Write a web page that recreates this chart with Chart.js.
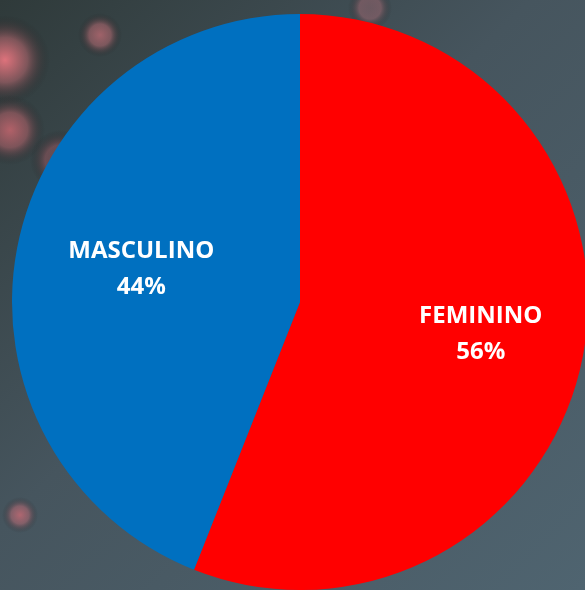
<!DOCTYPE html>
<html>
<head>
<meta charset="utf-8">
<script src="https://cdn.jsdelivr.net/npm/chart.js@4.4.0/dist/chart.umd.min.js"></script>
<style>
  html, body { margin: 0; padding: 0; background: #4b5a66; overflow: hidden; }
  #chart { display: block; }
</style>
</head>
<body>
<canvas id="chart" width="585" height="590"></canvas>
<script>
// data
const categories = ['FEMININO', 'MASCULINO'];
const percents = [56, 44];
const sliceColors = ['#ff0000', '#0070c0'];

// background: blurred dark photo, pinkish top-left
const photoBackground = {
  id: 'photoBackground',
  beforeDraw(chart) {
    const ctx = chart.ctx;
    const w = chart.width, h = chart.height;
    ctx.save();
    let g = ctx.createLinearGradient(0, 0, w, h);
    g.addColorStop(0, '#2f3a3a');
    g.addColorStop(0.45, '#46555e');
    g.addColorStop(1, '#4f6470');
    ctx.fillStyle = g;
    ctx.fillRect(0, 0, w, h);
    // soft pink smears
    const blobs = [
      [5, 60, 45, 'rgba(240,120,130,0.9)'],
      [10, 130, 35, 'rgba(230,110,120,0.7)'],
      [100, 35, 22, 'rgba(230,120,130,0.6)'],
      [60, 160, 30, 'rgba(180,90,100,0.35)'],
      [20, 515, 18, 'rgba(220,110,120,0.7)'],
      [370, 8, 22, 'rgba(190,110,120,0.35)']
    ];
    blobs.forEach(b => {
      let r = ctx.createRadialGradient(b[0], b[1], 0, b[0], b[1], b[2]);
      r.addColorStop(0, b[3]);
      r.addColorStop(0.5, b[3].replace(/[\d.]+\)$/, '0.4)'));
      r.addColorStop(1, 'rgba(0,0,0,0)');
      ctx.fillStyle = r;
      ctx.fillRect(b[0] - b[2], b[1] - b[2], b[2] * 2, b[2] * 2);
    });
    ctx.restore();
  }
};

// labels inside the slices
const sliceLabels = {
  id: 'sliceLabels',
  afterDatasetsDraw(chart) {
    const ctx = chart.ctx;
    const meta = chart.getDatasetMeta(0);
    ctx.save();
    ctx.fillStyle = '#ffffff';
    ctx.textAlign = 'center';
    ctx.textBaseline = 'middle';
    ctx.font = 'bold 24px "Open Sans", sans-serif';
    meta.data.forEach((arc, i) => {
      const p = arc.getProps(['x', 'y', 'startAngle', 'endAngle', 'outerRadius']);
      const mid = (p.startAngle + p.endAngle) / 2;
      const rr = p.outerRadius * 0.6;
      const x = p.x + Math.cos(mid) * rr + 11;
      const y = p.y + Math.sin(mid) * rr;
      ctx.fillText(categories[i], x, y - 18);
      ctx.fillText(percents[i] + '%', x, y + 18);
    });
    ctx.restore();
  }
};

new Chart(document.getElementById('chart'), {
  type: 'pie',
  data: {
    labels: categories,
    datasets: [{
      data: percents,
      backgroundColor: sliceColors,
      borderWidth: 0
    }]
  },
  options: {
    responsive: false,
    animation: false,
    radius: 288,
    layout: { padding: { left: 15, right: 0, top: 14, bottom: 0 } },
    plugins: {
      legend: { display: false },
      tooltip: { enabled: false }
    }
  },
  plugins: [photoBackground, sliceLabels]
});
</script>
</body>
</html>
